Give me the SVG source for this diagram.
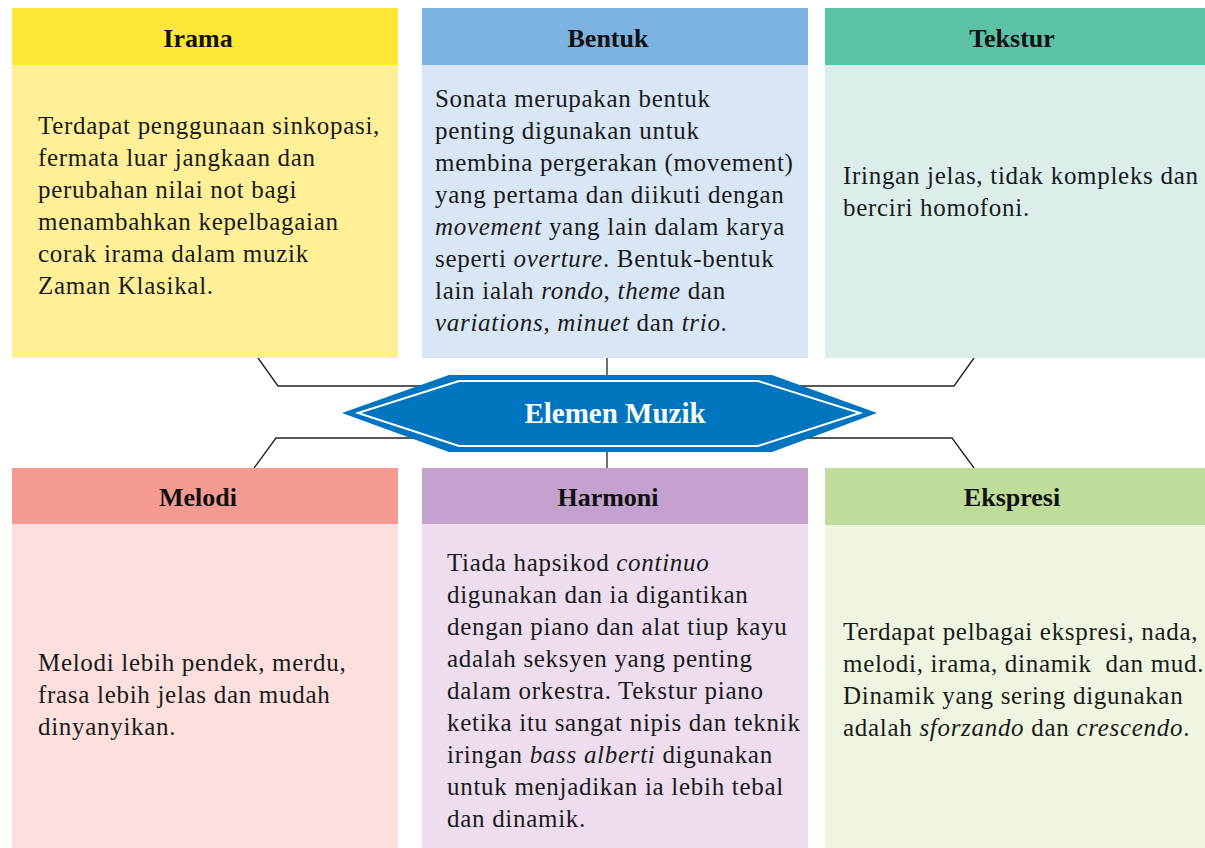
<svg xmlns="http://www.w3.org/2000/svg" width="1205" height="848" viewBox="0 0 1205 848">
<style>
.h{font-family:"Liberation Serif",serif;font-weight:bold;font-size:26px;fill:#111;text-anchor:middle}
.b{font-family:"Liberation Serif",serif;font-size:25px;letter-spacing:0.7px;fill:#1a1a1a}
.c{stroke:#222;stroke-width:1.3;fill:none}
</style>
<rect width="1205" height="848" fill="#fff"/>
<g id="connectors">
<polyline class="c" points="258,358 278,386 440,386"/>
<line class="c" x1="607" y1="358" x2="607" y2="378"/>
<polyline class="c" points="780,386 954,386 974,358"/>
<polyline class="c" points="254,468 276,438 440,438"/>
<line class="c" x1="607" y1="450" x2="607" y2="468"/>
<polyline class="c" points="780,438 952,438 974,468"/>
</g>
<g id="irama">
<rect x="12" y="8" width="386" height="350" fill="#FFF097"/>
<rect x="12" y="8" width="386" height="57" fill="#FFE735"/>
<text class="h" x="198" y="47">Irama</text>
<text class="b" x="38"><tspan x="38" y="134">Terdapat penggunaan sinkopasi,</tspan><tspan x="38" y="166">fermata luar jangkaan dan</tspan><tspan x="38" y="198">perubahan nilai not bagi</tspan><tspan x="38" y="230">menambahkan kepelbagaian</tspan><tspan x="38" y="262">corak irama dalam muzik</tspan><tspan x="38" y="294">Zaman Klasikal.</tspan></text>
</g>
<g id="bentuk">
<rect x="422" y="8" width="386" height="350" fill="#D9E6F5"/>
<rect x="422" y="8" width="386" height="57" fill="#7DB3E0"/>
<text class="h" x="608" y="47">Bentuk</text>
<text class="b"><tspan x="435" y="107">Sonata merupakan bentuk</tspan><tspan x="435" y="139">penting digunakan untuk</tspan><tspan x="435" y="171">membina pergerakan (movement)</tspan><tspan x="435" y="203">yang pertama dan diikuti dengan</tspan><tspan x="435" y="235" font-style="italic">movement</tspan><tspan> yang lain dalam karya</tspan><tspan x="435" y="267">seperti </tspan><tspan font-style="italic">overture</tspan><tspan>. Bentuk-bentuk</tspan><tspan x="435" y="299">lain ialah </tspan><tspan font-style="italic">rondo</tspan><tspan>, </tspan><tspan font-style="italic">theme</tspan><tspan> dan</tspan><tspan x="435" y="331" font-style="italic">variations</tspan><tspan>, </tspan><tspan font-style="italic">minuet</tspan><tspan> dan </tspan><tspan font-style="italic">trio</tspan><tspan>.</tspan></text>
</g>
<g id="tekstur">
<rect x="825" y="8" width="380" height="350" fill="#DBEEEC"/>
<rect x="825" y="8" width="380" height="57" fill="#5BC2A5"/>
<text class="h" x="1012" y="47">Tekstur</text>
<text class="b"><tspan x="843" y="184">Iringan jelas, tidak kompleks dan</tspan><tspan x="843" y="216">berciri homofoni.</tspan></text>
</g>
<g id="elemen-muzik">
<polygon points="342,413 449,375 772,375 877,413 772,452 449,452" fill="#0075BF"/>
<polygon points="358,413 459,381 758,381 860,413 758,446 459,446" fill="none" stroke="#fff" stroke-width="2"/>
<text x="615" y="423" font-family="Liberation Serif,serif" font-weight="bold" font-size="29" fill="#fff" text-anchor="middle">Elemen Muzik</text>
</g>
<g id="melodi">
<rect x="12" y="468" width="386" height="380" fill="#FDE0DD"/>
<rect x="12" y="468" width="386" height="56" fill="#F59A93"/>
<text class="h" x="198" y="506">Melodi</text>
<text class="b"><tspan x="38" y="671">Melodi lebih pendek, merdu,</tspan><tspan x="38" y="703">frasa lebih jelas dan mudah</tspan><tspan x="38" y="735">dinyanyikan.</tspan></text>
</g>
<g id="harmoni">
<rect x="422" y="468" width="386" height="380" fill="#EDDDEE"/>
<rect x="422" y="468" width="386" height="56" fill="#C5A1CD"/>
<text class="h" x="608" y="506">Harmoni</text>
<text class="b"><tspan x="447" y="571">Tiada hapsikod </tspan><tspan font-style="italic">continuo</tspan><tspan x="447" y="603">digunakan dan ia digantikan</tspan><tspan x="447" y="635">dengan piano dan alat tiup kayu</tspan><tspan x="447" y="667">adalah seksyen yang penting</tspan><tspan x="447" y="699">dalam orkestra. Tekstur piano</tspan><tspan x="447" y="731">ketika itu sangat nipis dan teknik</tspan><tspan x="447" y="763">iringan </tspan><tspan font-style="italic">bass alberti</tspan><tspan> digunakan</tspan><tspan x="447" y="795">untuk menjadikan ia lebih tebal</tspan><tspan x="447" y="827">dan dinamik.</tspan></text>
</g>
<g id="ekspresi">
<rect x="825" y="468" width="380" height="380" fill="#EEF5E0"/>
<rect x="825" y="468" width="380" height="57" fill="#BFDD9A"/>
<text class="h" x="1012" y="506">Ekspresi</text>
<text class="b"><tspan x="843" y="640">Terdapat pelbagai ekspresi, nada,</tspan><tspan x="843" y="672" style="white-space:pre">melodi, irama, dinamik  dan mud.</tspan><tspan x="843" y="704">Dinamik yang sering digunakan</tspan><tspan x="843" y="736">adalah </tspan><tspan font-style="italic">sforzando</tspan><tspan> dan </tspan><tspan font-style="italic">crescendo</tspan><tspan>.</tspan></text>
</g>
</svg>
